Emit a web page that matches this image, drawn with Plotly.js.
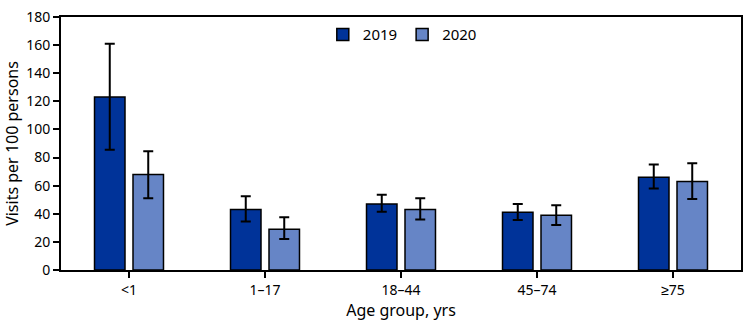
<!DOCTYPE html>
<html><head><meta charset="utf-8">
<script src="https://cdn.plot.ly/plotly-3.0.1.min.js"></script>
<style>html,body{margin:0;padding:0;background:#fff}#chart{width:749px;height:321px}</style>
</head><body><div id="chart"></div>
<script>
const categories = ["<1", "1–17", "18–44", "45–74", "≥75"];
const values2019 = [123, 43, 47, 41, 66];
const upper2019 = [161, 52.5, 53.5, 47, 75];
const lower2019 = [85.5, 34.5, 41.5, 35.5, 58];
const values2020 = [68, 29, 43, 39, 63];
const upper2020 = [84.5, 37.5, 51, 46, 76];
const lower2020 = [51, 22, 36, 32, 50.5];
const yTicks = [0, 20, 40, 60, 80, 100, 120, 140, 160, 180];

const font = "Noto Sans, sans-serif";
function errs(v, up, lo) {
  return {type: "data", symmetric: false,
    array: v.map((x, i) => up[i] - x), arrayminus: v.map((x, i) => x - lo[i]),
    color: "#000", thickness: 2, width: 5};
}
const traces = [
  {type: "bar", name: "2019", x: categories, y: values2019,
   marker: {color: "#003399", line: {color: "#000", width: 1.5}},
   error_y: errs(values2019, upper2019, lower2019)},
  {type: "bar", name: "2020", x: categories, y: values2020,
   marker: {color: "#6685C6", line: {color: "#000", width: 1.5}},
   error_y: errs(values2020, upper2020, lower2020)}
];
const layout = {
  width: 749, height: 321,
  margin: {l: 61, r: 8, t: 17, b: 51},
  paper_bgcolor: "#fff", plot_bgcolor: "#fff",
  barmode: "group", bargap: 0.434, bargroupgap: 0.208,
  font: {family: font, size: 14, color: "#000"},
  showlegend: true,
  legend: {orientation: "h", x: 0.385, y: 0.93, xanchor: "left", yanchor: "middle",
           font: {family: font, size: 15, color: "#000"}, bgcolor: "rgba(0,0,0,0)", itemwidth: 30},
  xaxis: {showline: true, linecolor: "#000", linewidth: 2, mirror: true,
          ticks: "outside", ticklen: 6, tickwidth: 2, tickcolor: "#000",
          showgrid: false, zeroline: false,
          tickfont: {family: font, size: 14},
          title: {text: "Age group, yrs", font: {family: font, size: 16}, standoff: 5}},
  yaxis: {range: [0, 180], tickvals: yTicks, showline: true, linecolor: "#000", linewidth: 2, mirror: true,
          ticks: "outside", ticklen: 6, tickwidth: 2, tickcolor: "#000",
          showgrid: false, zeroline: false,
          tickfont: {family: font, size: 14},
          title: {text: "Visits per 100 persons", font: {family: font, size: 16}, standoff: 4}}
};
Plotly.newPlot("chart", traces, layout, {displayModeBar: false, staticPlot: true});
</script></body></html>
